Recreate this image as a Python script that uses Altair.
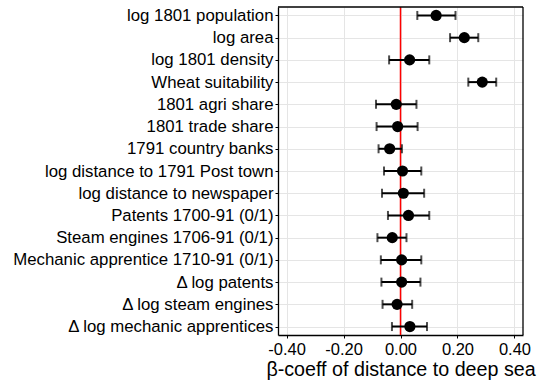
import altair as alt
import pandas as pd

labels = [
    "log 1801 population", "log area", "log 1801 density", "Wheat suitability",
    "1801 agri share", "1801 trade share", "1791 country banks",
    "log distance to 1791 Post town", "log distance to newspaper",
    "Patents 1700-91 (0/1)", "Steam engines 1706-91 (0/1)",
    "Mechanic apprentice 1710-91 (0/1)", "Δ log patents",
    "Δ log steam engines", "Δ log mechanic apprentices",
]
coef = [0.125, 0.224, 0.032, 0.287, -0.015, -0.010, -0.038, 0.007, 0.010,
        0.028, -0.029, 0.004, 0.004, -0.012, 0.033]
lo = [0.059, 0.174, -0.040, 0.238, -0.086, -0.084, -0.077, -0.058, -0.065,
      -0.044, -0.081, -0.069, -0.067, -0.063, -0.030]
hi = [0.193, 0.273, 0.101, 0.336, 0.056, 0.060, 0.005, 0.073, 0.083,
      0.101, 0.021, 0.073, 0.070, 0.041, 0.093]
x_ticks = [-0.4, -0.2, 0.0, 0.2, 0.4]
x_domain = [-0.43, 0.43]

df = pd.DataFrame({"label": labels, "coef": coef, "lo": lo, "hi": hi})

FONT = "Liberation Sans"
xscale = alt.Scale(domain=x_domain, nice=False, zero=False)
yscale = alt.Scale(type="point", padding=0.38)

y_enc = alt.Y("label:N", sort=labels, scale=yscale,
              axis=alt.Axis(title=None, domain=True, domainColor="black", domainWidth=1.3,
                            grid=True, tickColor="black", tickSize=3,
                            labelPadding=2, labelFontSize=16.8, labelColor="black",
                            labelLimit=400, labelFont=FONT, gridColor="#E5E5E5",
                            gridWidth=1))

base = alt.Chart(df)

errbar = base.mark_rule(color="black", strokeWidth=2).encode(
    x=alt.X("lo:Q", scale=xscale,
            axis=alt.Axis(values=x_ticks, title="β-coeff of distance to deep sea",
                          labelExpr="(datum.value < 0 ? '-' : '') + format(abs(datum.value), '.2f')",
                          labelFlush=False,
                          domain=True, domainColor="black", domainWidth=1.3,
                          grid=True, tickColor="black", tickSize=3, labelPadding=3,
                          labelFontSize=16.5, labelColor="black", labelFont=FONT,
                          titleFont=FONT, titleFontSize=19.7, titleFontWeight="normal",
                          titleColor="black", titlePadding=2, gridColor="#E5E5E5",
                          gridWidth=1)),
    x2="hi:Q",
    y=y_enc,
)
cap_lo = base.mark_tick(color="black", thickness=2, size=9, orient="vertical").encode(
    x=alt.X("lo:Q", scale=xscale), y=alt.Y("label:N", sort=labels, scale=yscale))
cap_hi = base.mark_tick(color="black", thickness=2, size=9, orient="vertical").encode(
    x=alt.X("hi:Q", scale=xscale), y=alt.Y("label:N", sort=labels, scale=yscale))
zero = alt.Chart(pd.DataFrame({"z": [0.0]})).mark_rule(color="red", strokeWidth=1.5).encode(
    x=alt.X("z:Q", scale=xscale))
pts = base.mark_circle(color="black", opacity=1, size=125).encode(
    x=alt.X("coef:Q", scale=xscale), y=alt.Y("label:N", sort=labels, scale=yscale))

edge = pd.DataFrame({"a": [x_domain[0]], "b": [x_domain[1]]})
top_border = alt.Chart(edge).mark_rule(color="black", strokeWidth=1.3).encode(
    x=alt.X("a:Q", scale=xscale), x2="b:Q", y=alt.value(0))
right_border = alt.Chart(edge).mark_rule(color="black", strokeWidth=1.3).encode(
    x=alt.X("b:Q", scale=xscale), y=alt.value(0), y2=alt.value(328))

chart = alt.layer(zero, errbar, cap_lo, cap_hi, pts, top_border, right_border).properties(
    width=245, height=328,
    background="white",
    autosize=alt.AutoSizeParams(type="none"),
    padding={"left": 278, "top": 7, "right": 22, "bottom": 47},
).configure_view(stroke=None)

chart.save("out.html", embed_options={"renderer": "svg", "actions": False})
